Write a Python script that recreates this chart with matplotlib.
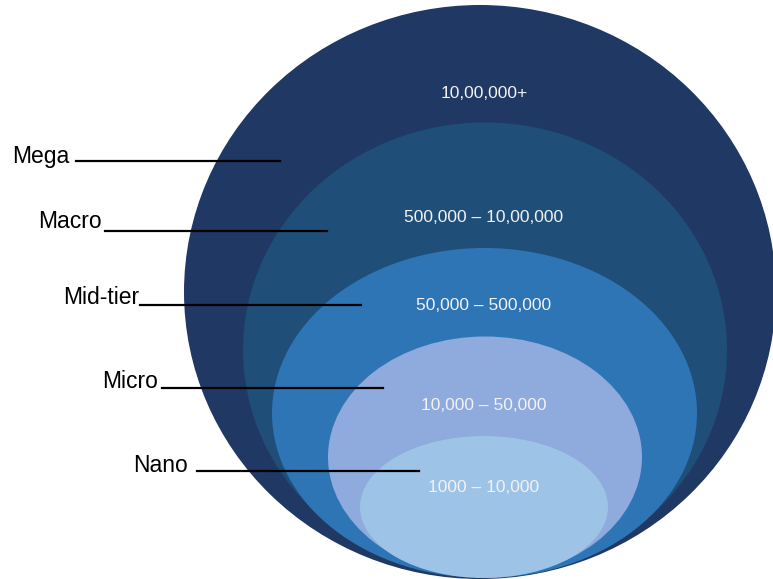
import matplotlib.pyplot as plt
from matplotlib.patches import Ellipse

# tiers from outermost to innermost
tiers = ['Mega', 'Macro', 'Mid-tier', 'Micro', 'Nano']
ranges = ['10,00,000+', '500,000 – 10,00,000', '50,000 – 500,000',
          '10,000 – 50,000', '1000 – 10,000']
colors = ['#203864', '#1F4E79', '#2E75B6', '#8FAADC', '#9DC3E6']

# layout in pixel coords (y down)
ell_cx = [480, 485, 484.5, 485, 484]
ell_cy = [292, 350, 413, 457, 507]
ell_w = [592, 484, 425, 314, 248]
ell_h = [574, 455, 330, 241, 142]
range_y = [93, 217, 306, 406, 488]
label_x = [12, 38, 63, 102, 133]
label_y = [157, 222, 297, 382, 465]
line_x0 = [76, 105, 140, 162, 197]
line_x1 = [280, 327, 361, 383, 419]
line_y = [161, 231, 305, 388, 471]

plt.rcParams['font.family'] = ['Liberation Sans', 'DejaVu Sans']

fig = plt.figure(figsize=(7.73, 5.79), dpi=100)
ax = fig.add_axes([0, 0, 1, 1])
ax.set_xlim(0, 773)
ax.set_ylim(579, 0)
ax.axis('off')

for i in range(len(tiers)):
    e = Ellipse((ell_cx[i], ell_cy[i]), ell_w[i], ell_h[i],
                facecolor=colors[i], edgecolor='none', zorder=i + 1)
    ax.add_patch(e)
    ax.text(484, range_y[i], ranges[i], color='#F2F2F2', fontsize=12.5,
            ha='center', va='center', zorder=10)

for i in range(len(tiers)):
    ax.text(label_x[i], label_y[i], tiers[i], color='black', fontsize=16.5,
            ha='left', va='center', zorder=12)
    ax.plot([line_x0[i], line_x1[i]], [line_y[i], line_y[i]],
            color='black', linewidth=1.6, zorder=11)

plt.savefig('out.png', dpi=100)
